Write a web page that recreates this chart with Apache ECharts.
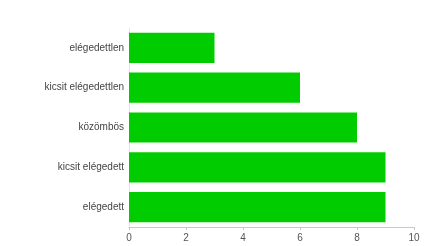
<!DOCTYPE html>
<html>
<head>
<meta charset="utf-8">
<script src="https://cdn.jsdelivr.net/npm/echarts@6/dist/echarts.min.js"></script>
<style>
html, body { margin: 0; padding: 0; background: #fff; }
#chart { width: 424px; height: 246px; }
</style>
</head>
<body>
<div id="chart"></div>
<script>
// kategóriák alulról felfelé
var categories = ['elégedett', 'kicsit elégedett', 'közömbös', 'kicsit elégedettlen', 'elégedettlen'];
var values = [9, 9, 8, 6, 3];
var xTicks = [0, 2, 4, 6, 8, 10];

var chart = echarts.init(document.getElementById('chart'));
chart.setOption({
    animation: false,
    grid: { left: 129, right: 10, top: 28, bottom: 19 },
    xAxis: {
        type: 'value',
        min: xTicks[0],
        max: xTicks[xTicks.length - 1],
        interval: 2,
        axisLine: { show: true, lineStyle: { color: '#c8c8d0', width: 1 } },
        axisTick: { show: true, length: 3, lineStyle: { color: '#c8c8d0' } },
        splitLine: { show: false },
        axisLabel: { color: '#555', fontSize: 10, fontFamily: 'Liberation Sans', margin: 6 }
    },
    yAxis: {
        type: 'category',
        data: categories,
        axisLine: { show: true, lineStyle: { color: '#e4e4ee', width: 1 } },
        axisTick: { show: false },
        axisLabel: { color: '#444', fontSize: 10, fontFamily: 'Liberation Sans', margin: 5 }
    },
    series: [{
        type: 'bar',
        data: values,
        barCategoryGap: '24%',
        itemStyle: { color: '#00cc00' }
    }]
});
</script>
</body>
</html>
